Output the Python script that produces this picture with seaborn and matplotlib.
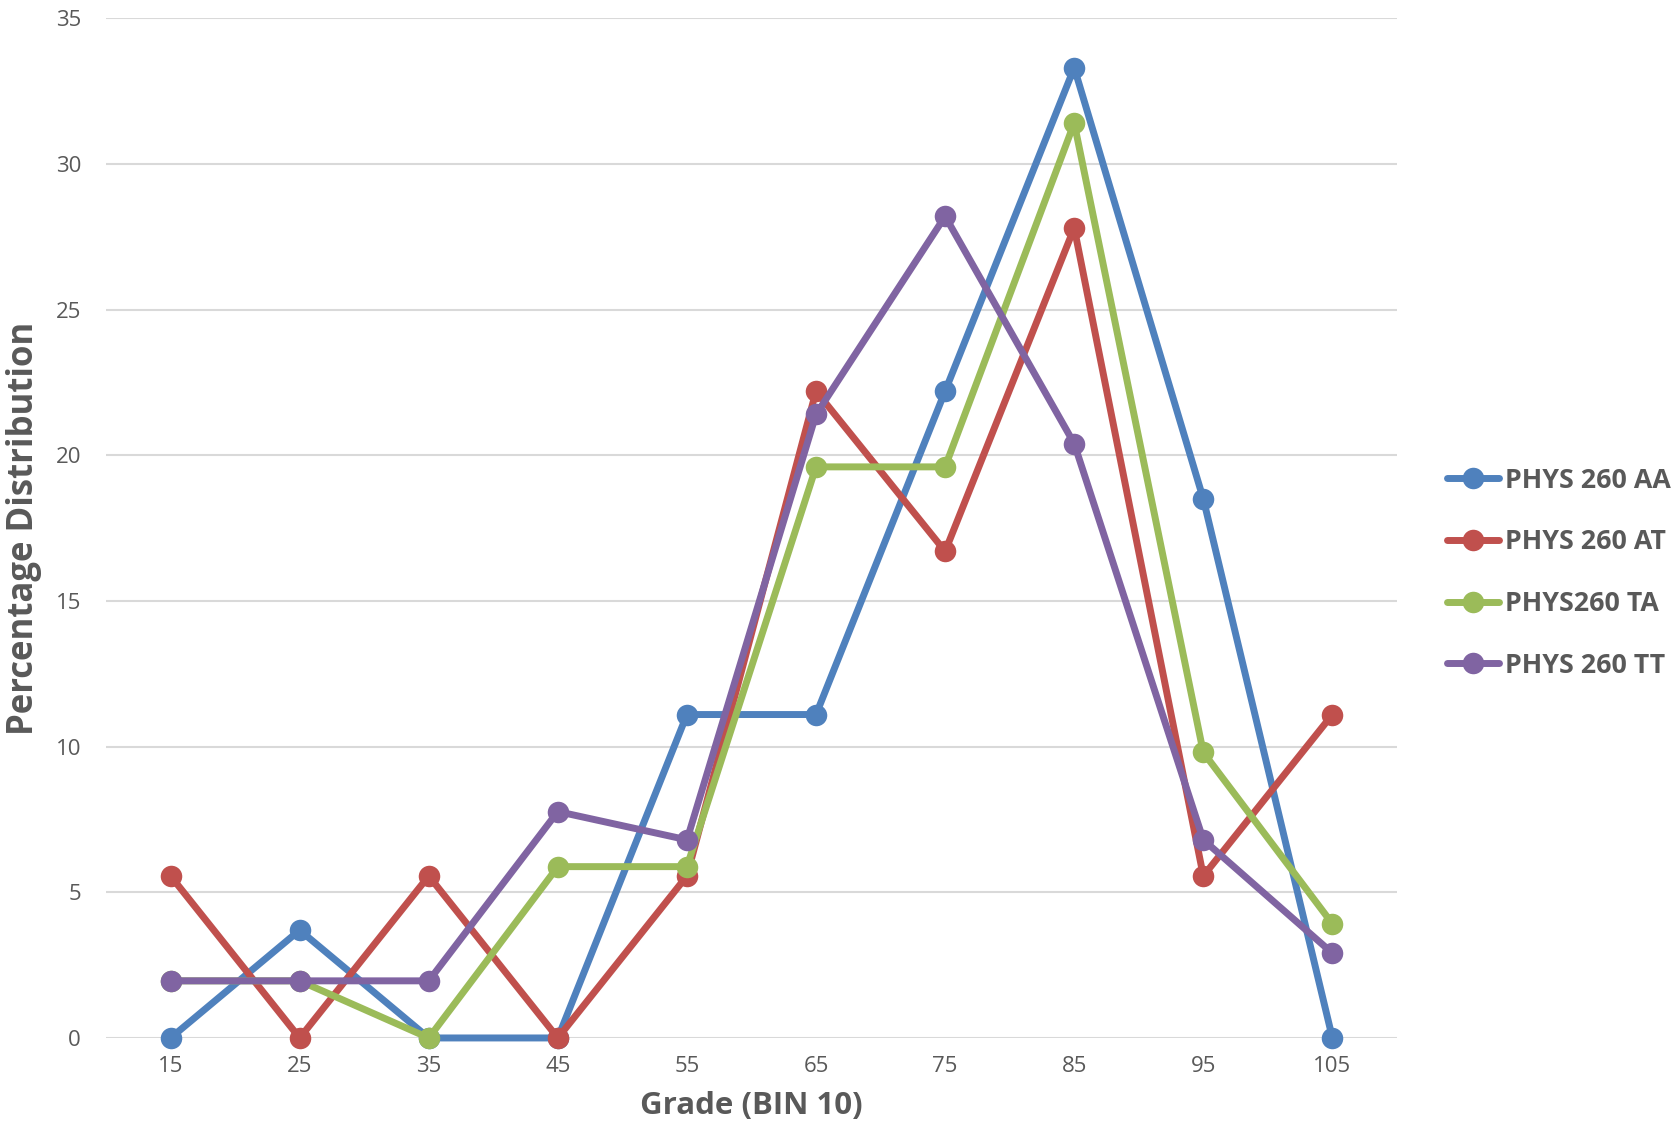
import matplotlib
matplotlib.use("Agg")
import matplotlib.pyplot as plt
import seaborn as sns
import pandas as pd

grades = [15, 25, 35, 45, 55, 65, 75, 85, 95, 105]
series_names = ["PHYS 260 AA", "PHYS 260 AT", "PHYS260 TA", "PHYS 260 TT"]
aa = [0, 3.7, 0, 0, 11.1, 11.1, 22.2, 33.3, 18.5, 0]
at = [5.56, 0, 5.56, 0, 5.56, 22.2, 16.7, 27.8, 5.56, 11.1]
ta = [1.96, 1.96, 0, 5.88, 5.88, 19.6, 19.6, 31.4, 9.8, 3.92]
tt = [1.96, 1.96, 1.96, 7.77, 6.8, 21.4, 28.2, 20.4, 6.8, 2.91]
palette = ["#4F81BD", "#C0504D", "#9BBB59", "#8064A2"]

rows = []
for name, vals in zip(series_names, [aa, at, ta, tt]):
    for g, v in zip(grades, vals):
        rows.append({"Grade": g, "Percent": v, "Series": name})
df = pd.DataFrame(rows)

sns.set_theme(style="white")
plt.rcParams["font.family"] = ["Open Sans", "DejaVu Sans"]

fig = plt.figure(figsize=(16.78, 11.35), dpi=100)
ax = fig.add_axes([0.0632, 0.0855, 0.7693, 0.8985])

sns.lineplot(data=df, x="Grade", y="Percent", hue="Series", palette=palette,
             marker="o", markersize=15.5, markeredgewidth=0, linewidth=5,
             ax=ax, legend=True, clip_on=False)

ax.set_xlim(10, 110)
ax.set_ylim(0, 35)
ax.set_xticks(grades)
ax.set_yticks(range(0, 36, 5))
ax.yaxis.grid(True, color="#D9D9D9", linewidth=1.5)
ax.set_axisbelow(True)
for s in ax.spines.values():
    s.set_visible(False)
ax.tick_params(axis="both", length=0, labelsize=16, labelcolor="#595959")
ax.tick_params(axis="y", pad=18)
ax.tick_params(axis="x", pad=13)

ax.set_xlabel("Grade (BIN 10)", fontsize=22.5, fontweight="bold", color="#595959", labelpad=10)
ax.set_ylabel("Percentage Distribution", fontsize=25, fontweight="bold", color="#595959", labelpad=10)

handles, labels = ax.get_legend_handles_labels()
ax.legend_.remove()
fig.legend(handles, labels, loc="center left", bbox_to_anchor=(0.856, 0.495),
           frameon=False, prop={"size": 19.3, "weight": "bold"}, labelcolor="#595959",
           handlelength=1.95, handletextpad=0.2, labelspacing=1.33, borderaxespad=0)

fig.savefig("out.png", dpi=100)
